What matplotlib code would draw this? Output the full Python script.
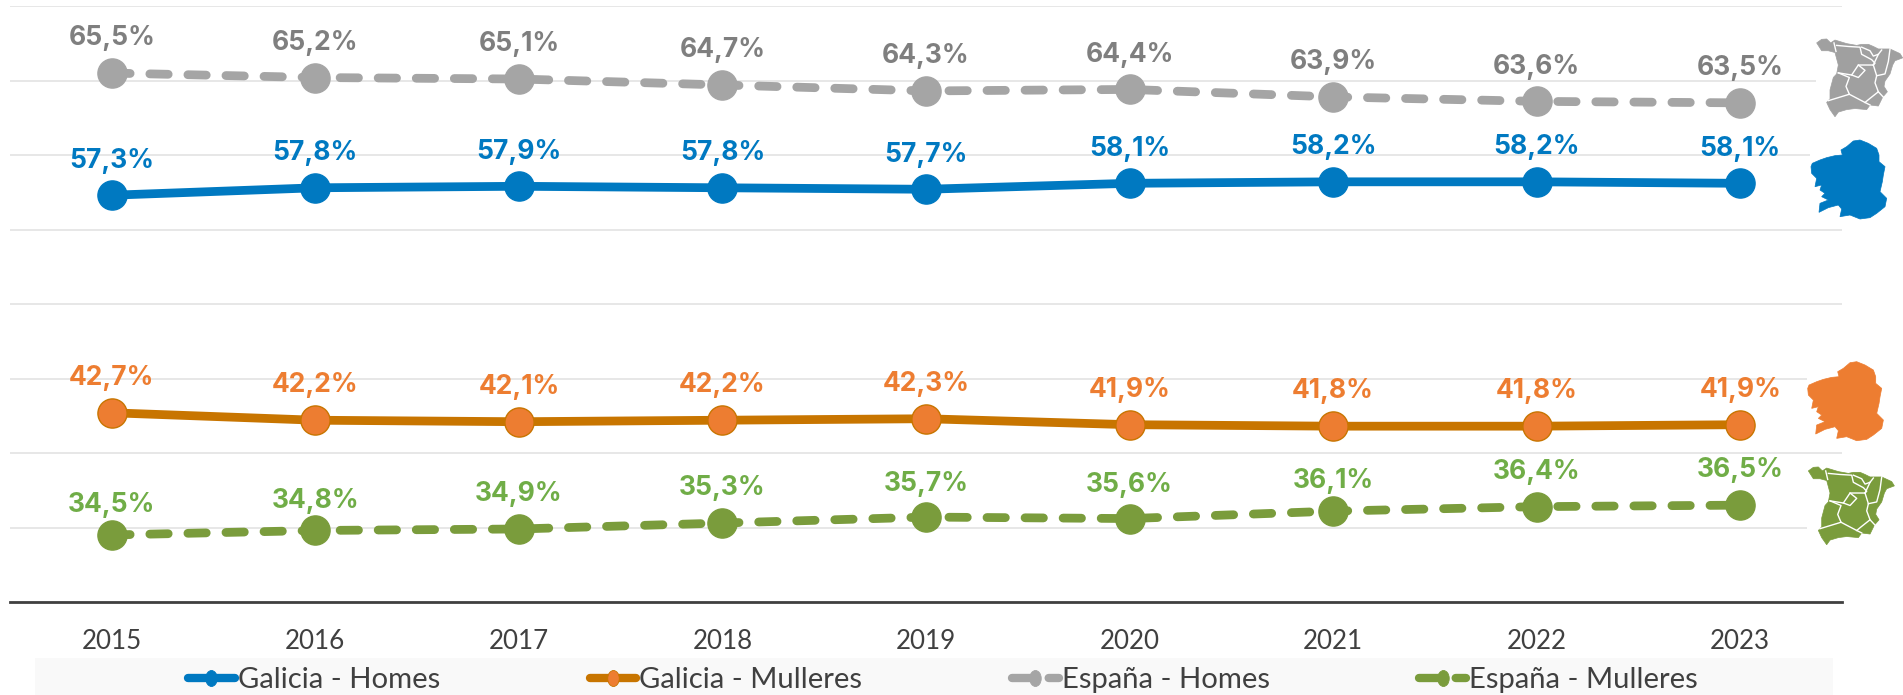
import matplotlib
matplotlib.use("Agg")
import matplotlib.pyplot as plt
from matplotlib.lines import Line2D
from matplotlib.patches import Polygon, Rectangle
from matplotlib.path import Path
from matplotlib.transforms import Affine2D

years = ["2015", "2016", "2017", "2018", "2019", "2020", "2021", "2022", "2023"]
galicia_homes = [57.3, 57.8, 57.9, 57.8, 57.7, 58.1, 58.2, 58.2, 58.1]
galicia_mulleres = [42.7, 42.2, 42.1, 42.2, 42.3, 41.9, 41.8, 41.8, 41.9]
espana_homes = [65.5, 65.2, 65.1, 64.7, 64.3, 64.4, 63.9, 63.6, 63.5]
espana_mulleres = [34.5, 34.8, 34.9, 35.3, 35.7, 35.6, 36.1, 36.4, 36.5]
names = ["Galicia - Homes", "Galicia - Mulleres", "España - Homes", "España - Mulleres"]

W, H = 1903, 695
fig = plt.figure(figsize=(W / 100, H / 100), dpi=100, facecolor="white")
ax = fig.add_axes([10 / W, 1 - 602 / H, 1832 / W, 596 / H])
ax.set_xlim(-0.5, 8.5)
ax.set_ylim(30, 70)
ax.set_yticks(range(30, 71, 5))
ax.grid(axis="y", color="#e0e0e0", lw=1.1, zorder=0)
ax.set_axisbelow(True)
for s in ["top", "left", "right"]:
    ax.spines[s].set_visible(False)
ax.spines["bottom"].set_color("#404040")
ax.spines["bottom"].set_linewidth(2)
ax.tick_params(left=False, labelleft=False, bottom=False)
xs = list(range(len(years)))
ax.set_xticks(xs, years, fontsize=18.7, family="Lato", color="#404040")
ax.tick_params(axis="x", pad=16)

styles = [
    (galicia_homes, "#0079C1", "#0079C1", False),
    (galicia_mulleres, "#C87500", "#ED7D31", False),
    (espana_homes, "#A5A5A5", "#A5A5A5", True),
    (espana_mulleres, "#7A9C3C", "#7A9C3C", True),
]
label_colors = ["#0079C1", "#ED7D31", "#7F7F7F", "#70AD47"]
# Vertical nudges (points) of individual value labels, per series
label_nudges = [
    [0] * 9,
    [0] * 9,
    [0] * 9,
    [-3.5, -4, 0, 0, -1, -1, -3.5, 0, 0],
]
tall_dot = Path.unit_circle().transformed(Affine2D().scale(0.72, 1))
handles = []
for (vals, lc, mc, dashed), tc, nudges in zip(styles, label_colors, label_nudges):
    edge = "#C87500" if mc == "#ED7D31" else mc
    kw = dict(dashes=(2.1, 2.25), dash_capstyle="round") if dashed else dict(solid_capstyle="round")
    ax.plot(xs, vals, color=lc, lw=6.3, marker="o", ms=21, mfc=mc, mec=edge, mew=1, zorder=3, **kw)
    for x, v, n in zip(xs, vals, nudges):
        ax.annotate(f"{v:.1f}%".replace(".", ","), (x, v), xytext=(0, 25 + n), textcoords="offset points",
                    ha="center", va="center", fontsize=19, family="Inter", weight="bold",
                    color=tc, zorder=4)
    hkw = dict(dashes=(2.5, 1.9), dash_capstyle="round") if dashed else dict(solid_capstyle="round")
    handles.append(Line2D([], [], color=lc, lw=6, marker=tall_dot, ms=11.5, mfc=mc, mec=edge, mew=0.6, **hkw))

# Overlay in pixel space for the legend band and the map icons
ov = fig.add_axes([0, 0, 1, 1], zorder=5)
ov.set_xlim(0, W)
ov.set_ylim(H, 0)
ov.axis("off")
ov.patch.set_alpha(0)
ov.add_patch(Rectangle((35, 658), 1798, 37, fc="#F9F9F9", ec="none"))

leg = ov.legend(handles, names, ncol=4, loc="center left", bbox_to_anchor=(188 / W, 1 - 680 / H),
                bbox_transform=fig.transFigure, frameon=False, borderpad=0, borderaxespad=0,
                handlelength=1.6, handletextpad=0.1, columnspacing=5.1,
                prop={"family": "Lato", "size": 21.1}, labelcolor="#404040")

galicia_origin = (1805, 135)
galicia_shape = [(18, 95), (22, 85), (45, 75), (65, 68), (90, 62), (112, 60), (108, 45), (125, 35), (145, 18),
                 (165, 15), (190, 25), (215, 40), (222, 60), (222, 80), (240, 95), (235, 120), (232, 140),
                 (225, 170), (245, 190), (240, 215), (215, 235), (195, 248), (165, 252), (135, 240), (105, 245),
                 (110, 222), (100, 210), (70, 218), (42, 232), (45, 205), (70, 195), (50, 185), (60, 175),
                 (45, 165), (50, 150), (30, 155), (35, 130), (20, 115)]
spain_origin = (1810, 30)
spain_shape = [(20, 38), (35, 28), (50, 27), (62, 38), (75, 30), (110, 40), (140, 45), (155, 42), (175, 42),
               (190, 48), (205, 55), (240, 55), (270, 68), (278, 80), (255, 88), (248, 100), (240, 125), (225, 145),
               (222, 160), (232, 175), (218, 190), (205, 215), (180, 212), (170, 225), (135, 222), (110, 225),
               (85, 232), (75, 245), (60, 225), (50, 205), (60, 195), (60, 170), (70, 135), (80, 125), (85, 100),
               (75, 65), (55, 60), (35, 60)]
spain_borders = [[(72, 38), (78, 62)],
                 [(80, 45), (115, 48), (150, 50), (155, 70), (185, 85), (195, 95), (190, 100)],
                 [(85, 122), (125, 128), (145, 100), (190, 100)],
                 [(125, 128), (145, 135), (165, 115), (145, 100)],
                 [(85, 122), (118, 135), (108, 160), (118, 182), (55, 200)],
                 [(118, 182), (165, 205), (180, 212)],
                 [(190, 100), (200, 130), (195, 150), (205, 175), (178, 195), (165, 205)],
                 [(240, 55), (235, 90), (225, 125), (200, 130)],
                 [(155, 50), (180, 60), (190, 75), (205, 70), (215, 58)],
                 [(205, 70), (190, 100)],
                 [(205, 175), (220, 190)]]


def to_px(pts, origin, dx=0, dy=0, sy=1.0):
    return [(origin[0] + x / 3 + dx, origin[1] + (28 + (y - 28) * sy) / 3 + dy) for x, y in pts]


def icon(shape, origin, color, dx, dy, borders=(), sy=1.0):
    pts = to_px(shape, origin, dx, dy, sy)
    xv, yv = zip(*pts)
    ov.add_patch(Rectangle((min(xv) - 1, min(yv) - 1), max(xv) - min(xv) + 2, max(yv) - min(yv) + 2,
                           fc="white", ec="none", zorder=1))
    ov.add_patch(Polygon(pts, closed=True, fc=color, ec=color, lw=0.5, zorder=2))
    for b in borders:
        bx, by = zip(*to_px(b, origin, dx, dy, sy))
        ov.plot(bx, by, color="white", lw=1.0, zorder=3)


icon(spain_shape, spain_origin, "#A0A0A0", 0, 0, spain_borders, sy=1.07)
icon(galicia_shape, galicia_origin, "#0079C1", 0, 0)
icon(galicia_shape, galicia_origin, "#ED7D31", -3.3, 221.7)
icon(spain_shape, spain_origin, "#7A9C3C", -8.3, 428, spain_borders, sy=1.07)
ov.set_xlim(0, W)
ov.set_ylim(H, 0)

fig.savefig("out.png", dpi=100, facecolor="white")
